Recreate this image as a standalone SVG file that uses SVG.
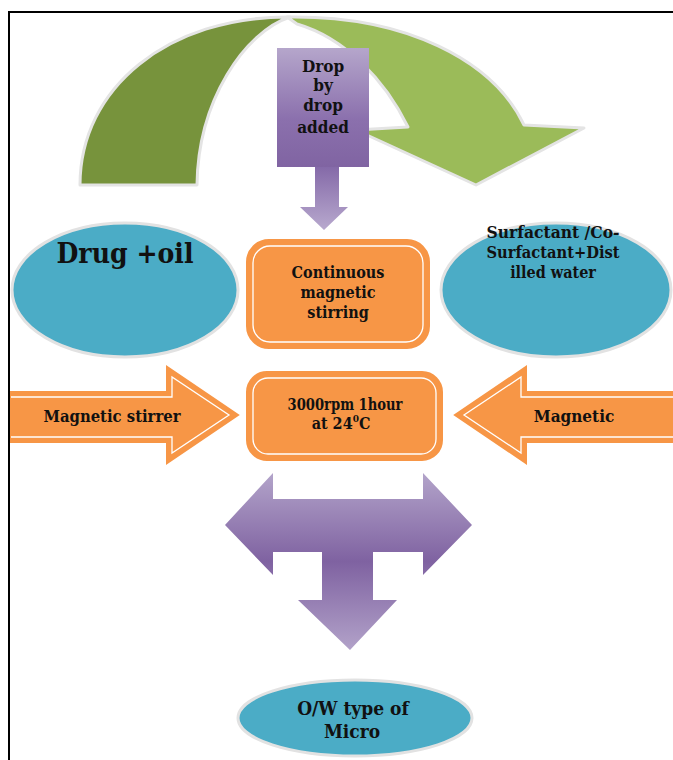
<svg xmlns="http://www.w3.org/2000/svg" width="673" height="760" viewBox="0 0 673 760">
<style>
text{font-family:"DejaVu Serif Condensed","Liberation Serif","Times New Roman",serif;font-weight:bold;fill:#111;text-anchor:middle}
.t15{font-size:16px}
.t17{font-size:17px}
.ell{fill:#4BACC6;stroke:#e2e2e2;stroke-width:3}
.orng{fill:#F79646;stroke:#F79646;stroke-width:2}
.inl{fill:none;stroke:#fff;stroke-width:1.3}
.glow{stroke:#e4e4e4;stroke-width:3;stroke-linejoin:round}
</style>
<defs>
<linearGradient id="gBox" x1="0" y1="0" x2="0" y2="1">
<stop offset="0" stop-color="#B5A6CB"/><stop offset="0.6" stop-color="#8B70AD"/><stop offset="1" stop-color="#8064A2"/>
</linearGradient>
<linearGradient id="gDn" x1="0" y1="0" x2="0" y2="1">
<stop offset="0" stop-color="#8469A8"/><stop offset="1" stop-color="#B8A9CE"/>
</linearGradient>
<linearGradient id="gT" x1="0" y1="473" x2="0" y2="650" gradientUnits="userSpaceOnUse">
<stop offset="0" stop-color="#B3A4CA"/><stop offset="0.5" stop-color="#7F62A1"/><stop offset="1" stop-color="#B2A2C9"/>
</linearGradient>
</defs>
<rect width="673" height="760" fill="#fff"/>
<path d="M9,760 V12 H673" fill="none" stroke="#000" stroke-width="2"/>
<g id="connectors">
<path id="arc-dark" class="glow" fill="#77933C" d="M80,185 C80,88 168,16 290,17 C245,32 198,100 197,185 Z"/>
<path id="arc-light" class="glow" fill="#9BBB59" d="M287,17 C405,15 493,60 524,125 L584,128 L476,185 L356,130 L408,127 C385,80 345,38 297,24 Z"/>
<path id="arrow-down" fill="url(#gDn)" d="M315,166 H339 V207 H348 L324,230 L300,207 H315 Z"/>
<path id="arrow-t" fill="url(#gT)" d="M225,525 L273,473 V499 H423 V473 L472,525 L423,575 V552 H373 V600 H397 L350,650 L298,600 H322 V552 H273 V575 Z"/>
</g>
<g id="drop">
<rect x="277" y="48" width="92" height="119" fill="url(#gBox)"/>
<text class="t17" x="323" y="72">Drop</text>
<text class="t17" x="323" y="91">by</text>
<text class="t17" x="323" y="111">drop</text>
<text class="t17" x="323" y="133">added</text>
</g>
<g id="drug-oil">
<ellipse class="ell" cx="125" cy="290" rx="113" ry="67"/>
<text x="125" y="263" style="font-size:27px" textLength="137" lengthAdjust="spacingAndGlyphs">Drug +oil</text>
</g>
<g id="stirring">
<rect class="orng" x="247" y="240" width="182" height="108" rx="22"/>
<rect class="inl" x="253" y="246" width="170" height="96" rx="17"/>
<text class="t15" x="338" y="278">Continuous</text>
<text class="t15" x="338" y="298">magnetic</text>
<text class="t15" x="338" y="318">stirring</text>
</g>
<g id="surfactant">
<ellipse class="ell" cx="556" cy="290" rx="115" ry="67"/>
<text class="t15" x="553" y="238" textLength="133" lengthAdjust="spacingAndGlyphs">Surfactant /Co-</text>
<text class="t15" x="553" y="258" textLength="133" lengthAdjust="spacingAndGlyphs">Surfactant+Dist</text>
<text class="t15" x="553" y="278">illed water</text>
</g>
<g id="stirrer">
<path class="orng" d="M11,392 H167 V367 L238,415 L167,463 V442 H11 Z"/>
<path class="inl" d="M11,397 H172 V377 L229,415 L172,453 V437 H11"/>
<text class="t15" x="112" y="422" textLength="137" lengthAdjust="spacingAndGlyphs">Magnetic stirrer</text>
</g>
<g id="rpm">
<rect class="orng" x="247" y="372" width="195" height="88" rx="20"/>
<rect class="inl" x="253" y="378" width="183" height="76" rx="15"/>
<text class="t15" x="345" y="410" textLength="115" lengthAdjust="spacingAndGlyphs">3000rpm 1hour</text>
<text class="t15" x="341" y="429">at 24<tspan dy="-7" style="font-size:10px">0</tspan><tspan dy="7">C</tspan></text>
</g>
<g id="magnetic">
<path class="orng" d="M673,392 H526 V367 L455,415 L526,463 V442 H673 Z"/>
<path class="inl" d="M673,397 H521 V377 L464,415 L521,453 V437 H673"/>
<text class="t17" x="574" y="422">Magnetic</text>
</g>
<g id="ow">
<ellipse class="ell" cx="355" cy="718" rx="117" ry="38"/>
<text x="353" y="715" style="font-size:19px">O/W type of</text>
<text x="352" y="738" style="font-size:19px">Micro</text>
</g>
</svg>
